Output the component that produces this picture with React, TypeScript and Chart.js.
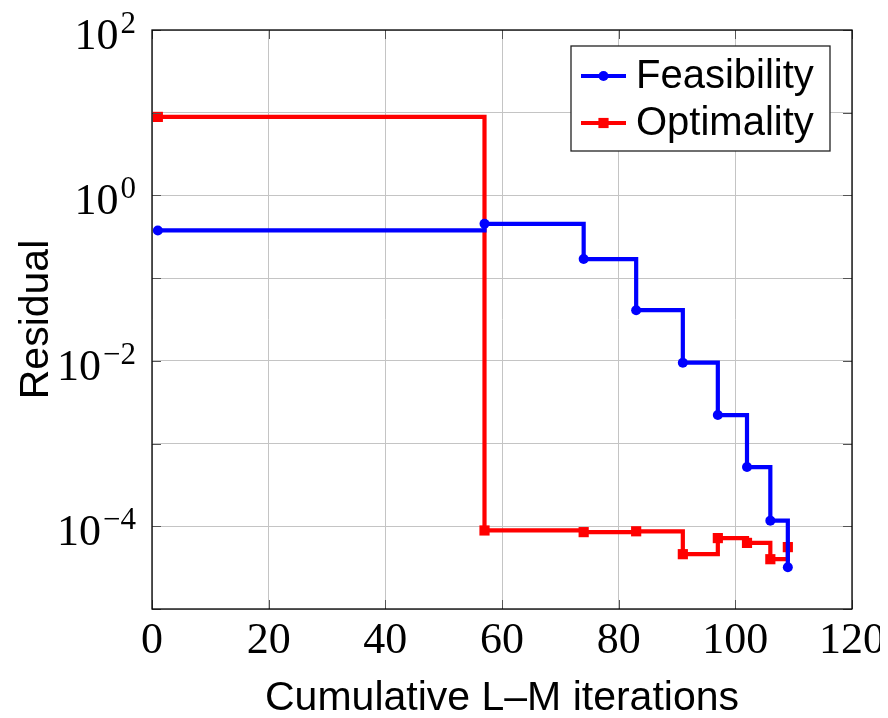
import React, { useEffect, useRef } from 'react';
import { Chart, registerables } from 'chart.js';

Chart.register(...registerables);

// ---- data ----
const iterations = [1, 57, 74, 83, 91, 97, 102, 106, 109];
const feasibility = [0.377, 0.454, 0.17, 0.041, 0.0095, 0.00221, 0.00052, 0.000117, 0.000032];
const optimality = [8.9, 8.9e-5, 8.5e-5, 8.7e-5, 4.6e-5, 7.2e-5, 6.3e-5, 4.0e-5, 5.6e-5];
const seriesNames = ['Feasibility', 'Optimality'];
const seriesColors = ['#0000ff', '#ff0000'];
const xTicks = [0, 20, 40, 60, 80, 100, 120];
const yGridExponents = [-5, -4, -3, -2, -1, 0, 1, 2];
const yLabelExponents = [-4, -2, 0, 2];
const xTitle = 'Cumulative L\u2013M iterations';
const yTitle = 'Residual';

const SERIF = "'Liberation Serif', 'Times New Roman', serif";
const SANS = "'Liberation Sans', Arial, sans-serif";

const overlayPlugin = {
  id: 'overlay',
  afterDraw(chart: any) {
    const ctx = chart.ctx;
    const { left, right, top, bottom } = chart.chartArea;
    const xs = chart.scales.x;
    const ys = chart.scales.y;
    ctx.save();

    // inward tick marks
    ctx.strokeStyle = '#555';
    ctx.lineWidth = 1;
    const tl = 9;
    ctx.beginPath();
    xTicks.forEach((v) => {
      const px = Math.round(xs.getPixelForValue(v)) + 0.5;
      ctx.moveTo(px, bottom);
      ctx.lineTo(px, bottom - tl);
      ctx.moveTo(px, top);
      ctx.lineTo(px, top + tl);
    });
    yGridExponents.forEach((e) => {
      const py = Math.round(ys.getPixelForValue(Math.pow(10, e))) + 0.5;
      ctx.moveTo(left, py);
      ctx.lineTo(left + tl, py);
      ctx.moveTo(right, py);
      ctx.lineTo(right - tl, py);
    });
    ctx.stroke();

    // frame
    ctx.strokeStyle = '#000';
    ctx.lineWidth = 1.3;
    ctx.strokeRect(left, top, right - left, bottom - top);

    // y tick labels 10^e
    ctx.fillStyle = '#000';
    ctx.textBaseline = 'alphabetic';
    yLabelExponents.forEach((e) => {
      const py = ys.getPixelForValue(Math.pow(10, e));
      const base = py + 19;
      const rightEdge = left - 16;
      const expText = e < 0 ? '\u2212' + String(-e) : String(e);
      ctx.font = `31px ${SERIF}`;
      const w2 = ctx.measureText(expText).width;
      ctx.textAlign = 'left';
      ctx.fillText(expText, rightEdge - w2, base - 16);
      ctx.font = `44px ${SERIF}`;
      ctx.textAlign = 'right';
      ctx.fillText('10', rightEdge - w2 - 2, base);
    });

    // legend
    const bw = 259;
    const bh = 105;
    const bx = right - 22 - bw;
    const by = top + 16;
    ctx.fillStyle = '#fff';
    ctx.fillRect(bx, by, bw, bh);
    ctx.strokeStyle = '#222';
    ctx.lineWidth = 1.3;
    ctx.strokeRect(bx, by, bw, bh);
    chart.data.datasets.forEach((ds: any, i: number) => {
      const cy = by + 30 + i * 47;
      const x0 = bx + 10;
      const x1 = bx + 55;
      ctx.strokeStyle = ds.borderColor;
      ctx.lineWidth = ds.borderWidth;
      ctx.beginPath();
      ctx.moveTo(x0, cy);
      ctx.lineTo(x1, cy);
      ctx.stroke();
      ctx.fillStyle = ds.borderColor;
      const mx = (x0 + x1) / 2;
      if (ds.pointStyle === 'rect') {
        const s = ds.pointRadius * Math.SQRT1_2;
        ctx.fillRect(mx - s, cy - s, 2 * s, 2 * s);
      } else {
        ctx.beginPath();
        ctx.arc(mx, cy, ds.pointRadius, 0, Math.PI * 2);
        ctx.fill();
      }
      ctx.fillStyle = '#000';
      ctx.font = `40px ${SANS}`;
      ctx.textAlign = 'left';
      ctx.textBaseline = 'middle';
      ctx.fillText(ds.label, bx + 65, cy + 1);
    });
    ctx.restore();
  },
};

export default function App() {
  const canvasRef = useRef<HTMLCanvasElement | null>(null);

  useEffect(() => {
    if (!canvasRef.current) return;
    const chart = new Chart(canvasRef.current, {
      type: 'line',
      data: {
        datasets: [
          {
            label: seriesNames[0],
            data: iterations.map((x, i) => ({ x, y: feasibility[i] })),
            borderColor: seriesColors[0],
            backgroundColor: seriesColors[0],
            borderWidth: 4.2,
            stepped: 'before',
            pointStyle: 'circle',
            pointRadius: 5,
            pointBorderWidth: 0,
            pointBackgroundColor: seriesColors[0],
            fill: false,
          },
          {
            label: seriesNames[1],
            data: iterations.map((x, i) => ({ x, y: optimality[i] })),
            borderColor: seriesColors[1],
            backgroundColor: seriesColors[1],
            borderWidth: 4.2,
            stepped: 'before',
            pointStyle: 'rect',
            pointRadius: 7.2,
            pointBorderWidth: 0,
            pointBackgroundColor: seriesColors[1],
            fill: false,
          },
        ],
      },
      options: {
        animation: false,
        responsive: false,
        maintainAspectRatio: false,
        layout: { padding: { top: 22, right: 28, left: 0, bottom: 0 } },
        plugins: { legend: { display: false }, tooltip: { enabled: false } },
        scales: {
          x: {
            type: 'linear',
            min: 0,
            max: 120,
            afterBuildTicks: (s: any) => {
              s.ticks = xTicks.map((v) => ({ value: v }));
            },
            afterFit: (s: any) => {
              s.height = 109;
              s.paddingLeft = 0;
              s.paddingRight = 0;
            },
            grid: { color: '#c4c4c4', lineWidth: 1, drawTicks: false },
            border: { display: false },
            ticks: {
              font: { family: SERIF, size: 44 },
              color: '#000',
              padding: 6,
              maxRotation: 0,
              autoSkip: false,
            },
            title: {
              display: true,
              text: xTitle,
              font: { family: SANS, size: 41 },
              color: '#000',
              padding: { top: 0, bottom: -5 },
            },
          },
          y: {
            type: 'logarithmic',
            min: 1e-5,
            max: 100,
            afterBuildTicks: (s: any) => {
              s.ticks = yGridExponents.map((e) => ({ value: Math.pow(10, e) }));
            },
            afterFit: (s: any) => {
              s.width = 144;
            },
            grid: { color: '#c4c4c4', lineWidth: 1, drawTicks: false },
            border: { display: false },
            ticks: { display: false },
            title: {
              display: true,
              text: yTitle,
              font: { family: SANS, size: 41 },
              color: '#000',
              padding: { top: 4, bottom: 0 },
            },
          },
        },
      },
      plugins: [overlayPlugin],
    });
    return () => chart.destroy();
  }, []);

  return (
    <div style={{ position: 'relative', width: 872, height: 702 }}>
      <canvas
        ref={canvasRef}
        width={872}
        height={710}
        style={{ position: 'absolute', left: 0, top: 0, width: 872, height: 710 }}
      />
    </div>
  );
}
